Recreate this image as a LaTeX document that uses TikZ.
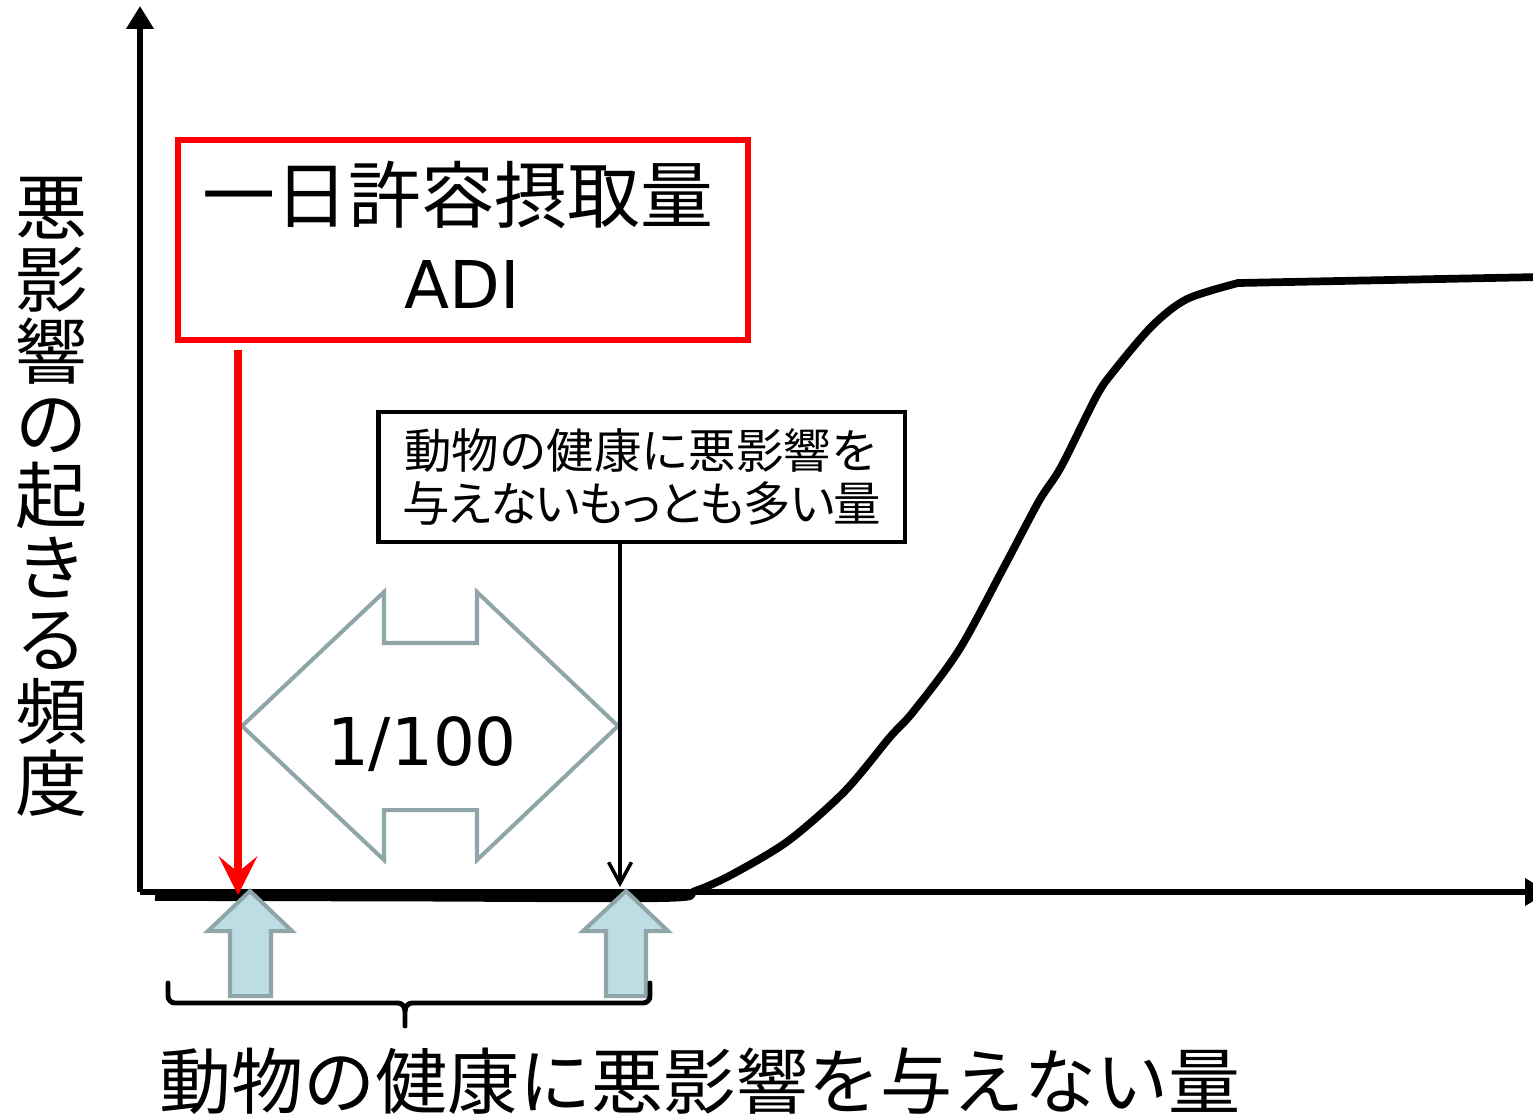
\documentclass[tikz,border=0pt]{standalone}
\usepackage{fontspec}
\newfontfamily\cjk{Noto Sans CJK JP}
\newfontfamily\cjkp[RawFeature=+palt,LetterSpace=-2.5]{Noto Sans CJK JP}
\newfontfamily\lat{DejaVu Sans}
\usetikzlibrary{arrows.meta}
\definecolor{grayline}{RGB}{143,165,168}
\definecolor{bluefill}{RGB}{189,221,228}
\tikzset{
  axisline/.style={line width=3.4pt,-{Triangle[length=13pt,width=15pt]}},
  curveline/.style={line width=4.4pt,line join=round},
  grayshape/.style={draw=grayline,line width=2.3pt,line join=miter},
  upshape/.style={draw=grayline,fill=bluefill,line width=2.3pt,line join=miter},
  redarrow/.style={draw=red,line width=4pt,-{Stealth[length=22pt,width=22pt,inset=9pt]}},
  blackarrow/.style={line width=2pt,-{Straight Barb[length=12pt,width=13pt]}},
  braceline/.style={line width=2.8pt,line cap=round},
  redbox/.style={draw=red,line width=3.7pt,minimum width=11.4cm,minimum height=4cm,inner sep=0pt},
  blackbox/.style={draw,line width=2.8pt,minimum width=10.54cm,minimum height=2.6cm,inner sep=0pt,align=center},
}
\begin{document}
\begin{tikzpicture}[x=0.02cm,y=-0.02cm]
\useasboundingbox (0,0) rectangle (1533,1117);
\clip (0,0) rectangle (1533,1117);
% axes
\coordinate (O) at (140,892);
\coordinate (ytop) at (140,6);
\coordinate (xend) at (1548,892);
\draw[axisline] (O) -- (ytop);
\draw[axisline] (O) -- (xend);
% curve
\draw[curveline] plot[smooth,tension=0.5] coordinates {(155,897) (400,897.5) (664,898) (695,891) (731,875) (788,841) (845,791) (890,737) (913,712) (959,650) (1004,567) (1039,501) (1061,467) (1096,397) (1113,372) (1152,326) (1187,299) (1238,283)} -- (1540,277);
% y label
\node[font=\cjk\fontsize{41pt}{41pt}\selectfont,align=center,inner sep=0pt] (ylab) at (52,497) {悪\\影\\響\\の\\起\\き\\る\\頻\\度};
% red box
\node[redbox] (adibox) at (463,240) {};
\node[font=\cjk\fontsize{41.5pt}{41.5pt}\selectfont,inner sep=0pt] (adi1) at (458,195) {一日許容摂取量};
\node[font=\lat\fontsize{37.5pt}{37.5pt}\selectfont,inner sep=0pt] (adi2) at (462,284) {ADI};
% black box
\node[blackbox,font=\cjk\fontsize{27pt}{30.7pt}\selectfont] (noael) at (641.5,477) {動物の健康に悪影響を\\{\cjkp 与えないもっとも多い量}};
% gray double arrow
\draw[grayshape] (242,726) -- (384,592) -- (384,643) -- (477,643) -- (477,592) -- (618,726) -- (477,860) -- (477,810) -- (384,810) -- (384,860) -- cycle;
\node[font=\lat\fontsize{37.5pt}{37.5pt}\selectfont,inner sep=0pt] (ratio) at (422,744) {1/100};
% red arrow
\coordinate (redstart) at (238,350);
\coordinate (redend) at (238,895);
\draw[redarrow] (redstart) -- (redend);
% black arrow
\coordinate (blkend) at (620,887);
\draw[blackarrow] (noael.south -| blkend) -- (blkend);
% up arrows
\draw[upshape] (250,891) -- (292,931) -- (271,931) -- (271,996) -- (230,996) -- (230,931) -- (208,931) -- cycle;
\draw[upshape] (626,891) -- (668,931) -- (646,931) -- (646,996) -- (606,996) -- (606,931) -- (583,931) -- cycle;
% brace
\draw[braceline] (168,983) -- (168,996) to[out=-90,in=180] (175,1003) -- (398,1003) to[out=0,in=90] (405,1011) -- (405,1026);
\draw[braceline] (405,1011) to[out=90,in=180] (412,1003) -- (643,1003) to[out=0,in=-90] (650,996) -- (650,983);
% bottom label
\node[font=\cjk\fontsize{41pt}{41pt}\selectfont,inner sep=0pt] (bottom) at (700,1081) {動物の健康に悪影響を与えない量};
\end{tikzpicture}
\end{document}
